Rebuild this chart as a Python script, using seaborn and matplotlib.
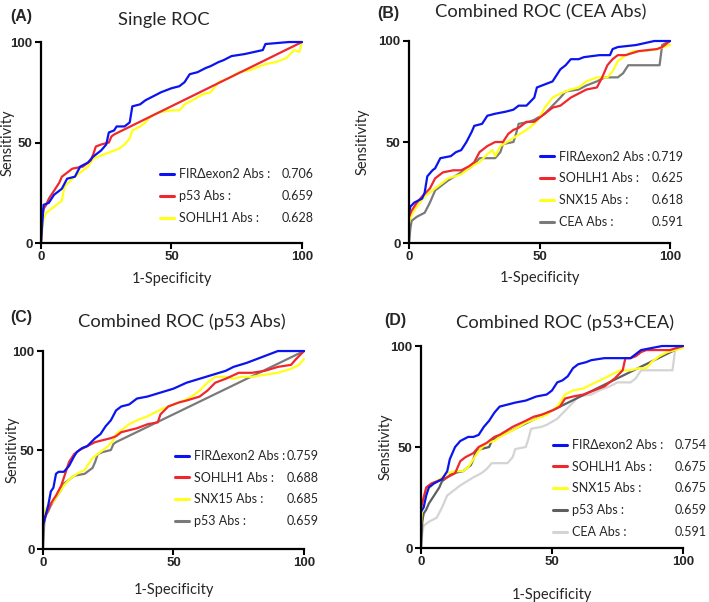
import numpy as np
import pandas as pd
import matplotlib
matplotlib.use("Agg")
import matplotlib.pyplot as plt
import seaborn as sns
from matplotlib.lines import Line2D

# ---- data (x = 1-Specificity, y = Sensitivity) ----
# p53 Abs (shared by panels A, C, D)
p53_x = [0, 0.5, 1, 2, 3, 5, 7, 8, 10, 12, 16, 19, 20, 21, 23, 26, 27, 28, 100]
p53_y = [0, 13, 17, 19, 22, 26, 30, 33, 35, 37, 38, 41, 44, 48, 49, 50, 53, 54, 100]

# CEA Abs (shared by panels B, D)
cea_x = [0, 0.5, 1, 3, 6, 8, 10, 12, 15, 20, 23, 25, 27, 33, 35, 36, 40, 41, 42, 46,
         48, 52, 55, 58, 60, 65, 68, 72, 75, 80, 82, 84, 90, 96, 97, 100]
cea_y = [0, 7, 11, 13, 15, 20, 26, 28, 31, 35, 37, 39, 42, 42, 45, 49, 50, 54, 59, 60,
         61, 64, 68, 72, 75, 76, 78, 80, 82, 82, 84, 88, 88, 88, 98, 100]

# panel A
a_fir_x = [0, 0.5, 1, 3, 5, 8, 10, 13, 15, 18, 20, 23, 25, 26, 28, 29, 32, 34, 35, 38,
           40, 43, 46, 50, 53, 55, 57, 60, 63, 65, 68, 70, 73, 78, 85, 86, 95, 100]
a_fir_y = [0, 10, 19, 20, 24, 27, 32, 33, 38, 40, 43, 46, 49, 55, 56, 58, 58, 60, 68, 69,
           71, 73, 75, 77, 78, 80, 84, 85, 87, 88, 90, 91, 93, 94, 96, 99, 100, 100]
a_soh_x = [0, 1, 2, 5, 8, 9, 12, 15, 18, 20, 24, 28, 30, 32, 34, 35, 38, 40, 42, 45,
           50, 53, 55, 58, 62, 65, 68, 72, 76, 80, 86, 90, 94, 97, 99, 100]
a_soh_y = [0, 12, 15, 18, 21, 28, 32, 35, 38, 42, 44, 46, 47, 49, 52, 56, 58, 60, 63, 65,
           66, 66, 69, 71, 74, 75, 80, 82, 85, 86, 89, 90, 92, 96, 95, 100]

# panel B
b_fir_x = [0, 0.5, 2, 5, 6, 7, 9, 10, 12, 16, 18, 20, 22, 24, 25, 28, 30, 33, 37, 40,
           42, 45, 48, 49, 53, 55, 57, 58, 60, 62, 65, 67, 73, 77, 78, 80, 87, 94, 100]
b_fir_y = [15, 18, 20, 22, 25, 33, 36, 37, 42, 43, 45, 46, 50, 55, 58, 59, 63, 64, 65, 66,
           68, 68, 72, 77, 79, 80, 84, 86, 88, 91, 91, 92, 93, 93, 96, 97, 98, 100, 100]
b_soh_x = [0, 1, 3, 5, 8, 10, 13, 17, 20, 23, 25, 27, 30, 33, 36, 38, 40, 42, 45, 48,
           52, 55, 58, 60, 62, 65, 68, 72, 74, 76, 78, 80, 83, 88, 95, 97, 100]
b_soh_y = [13, 16, 20, 23, 27, 32, 35, 36, 36, 38, 40, 45, 48, 50, 50, 54, 56, 57, 60, 60,
           64, 67, 68, 70, 72, 74, 76, 77, 82, 88, 91, 93, 93, 95, 96, 97, 100]
b_snx_x = [0, 1, 3, 6, 10, 15, 20, 24, 27, 30, 32, 33, 35, 40, 45, 48, 50, 52, 55, 58,
           62, 65, 68, 72, 76, 78, 80, 83, 86, 90, 95, 100]
b_snx_y = [10, 14, 18, 23, 27, 32, 34, 38, 40, 44, 46, 43, 48, 52, 56, 59, 62, 67, 72, 74,
           76, 77, 80, 82, 82, 85, 90, 93, 95, 95, 96, 98]

# panel C
c_fir_x = [0, 1, 2, 3, 4, 5, 6, 8, 10, 12, 13, 15, 17, 20, 22, 24, 26, 28, 30, 33,
           36, 40, 45, 50, 55, 60, 65, 70, 73, 78, 82, 86, 90, 100]
c_fir_y = [12, 17, 22, 29, 31, 38, 39, 39, 42, 47, 49, 51, 52, 56, 58, 62, 65, 70, 72, 73,
           76, 77, 79, 81, 84, 86, 88, 90, 92, 94, 96, 98, 100, 100]
c_soh_x = [0, 2, 3, 5, 7, 9, 10, 12, 14, 17, 20, 23, 26, 28, 30, 33, 36, 40, 44, 45,
           48, 52, 55, 60, 63, 66, 70, 75, 80, 85, 90, 95, 97, 100]
c_soh_y = [13, 20, 23, 27, 32, 40, 44, 48, 50, 52, 54, 55, 56, 57, 59, 60, 61, 63, 64, 68,
           72, 74, 75, 77, 80, 84, 86, 89, 89, 90, 92, 93, 96, 100]
c_snx_x = [0, 1, 2, 4, 6, 8, 10, 13, 16, 19, 22, 25, 27, 28, 30, 33, 36, 40, 43, 46,
           50, 54, 57, 60, 63, 66, 70, 73, 76, 80, 85, 90, 95, 98, 100]
c_snx_y = [13, 20, 22, 24, 28, 32, 35, 38, 40, 46, 49, 52, 55, 58, 60, 63, 65, 67, 69, 71,
           73, 75, 77, 80, 84, 87, 87, 86, 87, 87, 88, 89, 91, 93, 96]

# panel D
d_fir_x = [0, 1, 2, 3, 5, 8, 10, 11, 12, 13, 15, 18, 20, 22, 24, 26, 28, 30, 33, 36,
           40, 44, 48, 50, 52, 54, 56, 58, 60, 63, 65, 70, 80, 82, 84, 88, 92, 100]
d_fir_y = [18, 20, 26, 30, 32, 34, 38, 44, 47, 50, 53, 55, 55, 56, 60, 63, 67, 70, 71, 72,
           73, 75, 76, 78, 82, 83, 85, 89, 91, 92, 93, 94, 94, 96, 98, 99, 100, 100]
d_soh_x = [0, 1, 2, 4, 6, 8, 10, 13, 14, 15, 17, 20, 22, 25, 28, 30, 35, 40, 43, 46,
           50, 53, 55, 58, 62, 66, 70, 74, 77, 78, 80, 82, 84, 86, 95, 100]
d_soh_y = [20, 25, 30, 32, 33, 34, 35, 37, 40, 43, 45, 47, 50, 52, 55, 56, 60, 63, 65, 66,
           68, 70, 74, 75, 76, 78, 80, 84, 88, 94, 94, 95, 97, 98, 98, 100]
d_snx_x = [0, 0.5, 2, 5, 8, 10, 13, 16, 18, 20, 22, 25, 28, 30, 33, 36, 40, 44, 48, 52,
           55, 58, 62, 65, 70, 73, 76, 80, 83, 86, 88, 91, 94, 97, 100]
d_snx_y = [12, 22, 28, 32, 35, 37, 38, 38, 40, 44, 48, 52, 53, 55, 57, 59, 62, 64, 66, 70,
           76, 78, 79, 81, 84, 86, 88, 88, 89, 89, 92, 95, 97, 98, 99]

# legend texts
names_a = ["FIR\u0394exon2 Abs :", "p53 Abs :", "SOHLH1 Abs :"]
auc_a = ["0.706", "0.659", "0.628"]
names_b = ["FIR\u0394exon2 Abs :", "SOHLH1 Abs :", "SNX15 Abs :", "CEA Abs :"]
auc_b = ["0.719", "0.625", "0.618", "0.591"]
names_c = ["FIR\u0394exon2 Abs :", "SOHLH1 Abs :", "SNX15 Abs :", "p53 Abs :"]
auc_c = ["0.759", "0.688", "0.685", "0.659"]
names_d = ["FIR\u0394exon2 Abs :", "SOHLH1 Abs :", "SNX15 Abs :", "p53 Abs :", "CEA Abs :"]
auc_d = ["0.754", "0.675", "0.675", "0.659", "0.591"]

BLUE = "#0A14F0"
RED = "#F0282D"
YELLOW = "#FFFF1A"
GRAY = "#7A7A7A"
DARKGRAY = "#5E5E5E"
LIGHT = "#D4D4D4"

sns.set_style("ticks")
plt.rcParams["font.family"] = ["Lato", "DejaVu Sans"]

fig = plt.figure(figsize=(7.09, 6.02), dpi=100)
panels = []


def draw_panel(rect, curves, names, aucs, title, title_x, title_dy, tag, tag_xy,
               leg_x, leg_right, leg_bottom, xlab_dy, ylab_dx):
    ax = fig.add_axes(rect)
    # draw back to front: last curve in legend order is drawn first
    for (x, y, c) in reversed(curves):
        df = pd.DataFrame({"x": x, "y": y})
        sns.lineplot(data=df, x="x", y="y", ax=ax, color=c, lw=1.6, sort=False,
                     estimator=None, clip_on=False)
    ax.set_xlim(0, 100)
    ax.set_ylim(0, 100)
    ax.set_xticks([0, 50, 100])
    ax.set_yticks([0, 50, 100])
    for s in ["top", "right"]:
        ax.spines[s].set_visible(False)
    for s in ["left", "bottom"]:
        ax.spines[s].set_linewidth(1.6)
        ax.spines[s].set_color("black")
    ax.tick_params(width=1.5, length=4, labelsize=9.5, pad=2, color="black")
    for lab in ax.get_xticklabels() + ax.get_yticklabels():
        lab.set_fontfamily("Liberation Sans")
        lab.set_fontweight("bold")
    ax.set_xlabel("1-Specificity", fontsize=10.5)
    ax.set_ylabel("Sensitivity", fontsize=10.5)
    ax.xaxis.set_label_coords(0.5, -xlab_dy)
    ax.yaxis.set_label_coords(-ylab_dx, 0.5)
    ax.text(title_x, 1 + title_dy, title, transform=ax.transAxes, ha="center",
            va="center", fontsize=13.2)
    fig.text(tag_xy[0], tag_xy[1], tag, fontsize=11.5, fontweight="bold",
             family="Liberation Sans", ha="left", va="center")

    handles = [Line2D([], [], color=c, lw=2.2) for (_, _, c) in curves]
    leg = ax.legend(handles, names, loc="lower left", bbox_to_anchor=(leg_x, leg_bottom),
                    frameon=False, fontsize=9.0, handlelength=1.1, handletextpad=0.4,
                    labelspacing=0.78, borderpad=0, borderaxespad=0)
    panels.append((ax, leg, aucs, leg_right))
    return ax


draw_panel([0.0578, 0.5963, 0.3681, 0.3339],
           [(a_fir_x, a_fir_y, BLUE), (p53_x, p53_y, RED), (a_soh_x, a_soh_y, YELLOW)],
           names_a, auc_a, "Single ROC", 0.47, 0.11, "(A)", (0.014, 0.972),
           0.456, 1.046, 0.095, 0.144, 0.10)

draw_panel([0.5769, 0.5963, 0.3681, 0.3356],
           [(b_fir_x, b_fir_y, BLUE), (b_soh_x, b_soh_y, RED), (b_snx_x, b_snx_y, YELLOW),
            (cea_x, cea_y, GRAY)],
           names_b, auc_b, "Combined ROC (CEA Abs)", 0.506, 0.14, "(B)", (0.532, 0.978),
           0.502, 1.054, 0.075, 0.139, 0.153)

draw_panel([0.0606, 0.0880, 0.3682, 0.3289],
           [(c_fir_x, c_fir_y, BLUE), (c_soh_x, c_soh_y, RED), (c_snx_x, c_snx_y, YELLOW),
            (p53_x, p53_y, GRAY)],
           names_c, auc_c, "Combined ROC (p53 Abs)", 0.533, 0.146, "(C)", (0.014, 0.472),
           0.506, 1.057, 0.11, 0.172, 0.088)

draw_panel([0.5938, 0.0897, 0.3695, 0.3355],
           [(d_fir_x, d_fir_y, BLUE), (d_soh_x, d_soh_y, RED), (d_snx_x, d_snx_y, YELLOW),
            (p53_x, p53_y, DARKGRAY), (cea_x, cea_y, LIGHT)],
           names_d, auc_d, "Combined ROC (p53+CEA)", 0.55, 0.115, "(D)", (0.542, 0.468),
           0.504, 1.09, 0.05, 0.198, 0.11)

# AUC values, right-aligned on the same rows as the legend entries
fig.canvas.draw()
for ax, leg, aucs, right in panels:
    inv = ax.transAxes.inverted()
    for txt, val in zip(leg.get_texts(), aucs):
        bb = txt.get_window_extent()
        yc = inv.transform((0, (bb.y0 + bb.y1) / 2))[1]
        ax.text(right, yc, val, transform=ax.transAxes, ha="right", va="center",
                fontsize=9)

fig.savefig("out.png", dpi=100)
